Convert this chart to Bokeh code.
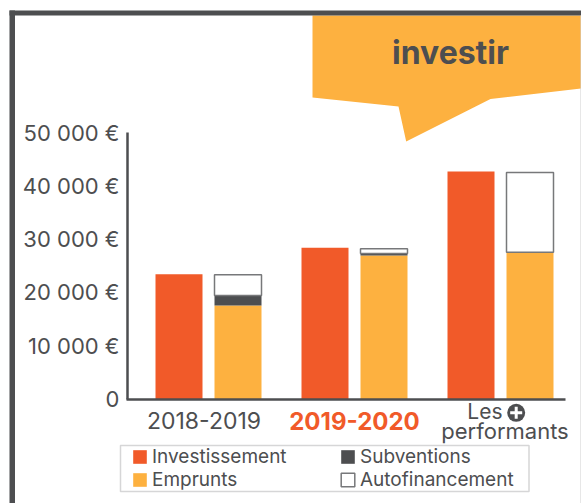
from bokeh.embed import file_html
from bokeh.resources import INLINE
from bokeh.plotting import figure
from bokeh.models import (Range1d, FixedTicker, LinearAxis, BoxAnnotation,
                          Legend, LegendItem, ColumnDataSource)
from bokeh.core.properties import value

categories = ["2018-2019", "2019-2020", "Les performants"]
positions = [0, 1, 2]
investissement = [23400, 28400, 42700]
emprunts = [17540, 26900, 27550]
subventions = [1860, 400, 0]
autofinancement = [3900, 900, 14950]
y_ticks = [0, 10000, 20000, 30000, 40000, 50000]
y_labels = ["0", "10 000 €", "20 000 €", "30 000 €", "40 000 €", "50 000 €"]

RED, YEL, DARK = "#f15a29", "#fdb140", "#4d4e50"
FONT = "Inter"
W, H = 581, 503

def dy(page):
    return (398.5 - page) / 53.3 * 10000
def dx(page):
    return (page - 208) / 146

p = figure(width=W, height=H, output_backend="svg", toolbar_location=None, tools="",
           x_range=Range1d(dx(0), dx(W)), y_range=Range1d(dy(H), dy(0)),
           x_axis_type=None, y_axis_type=None,
           min_border_left=0, min_border_right=0, min_border_top=0, min_border_bottom=0,
           background_fill_color="white", border_fill_color="white", outline_line_color=None)
p.grid.visible = False

yax = LinearAxis(ticker=FixedTicker(ticks=y_ticks), fixed_location=dx(127),
                 major_label_overrides={t: s for t, s in zip(y_ticks, y_labels)},
                 major_tick_line_color=None, minor_tick_line_color=None, major_tick_out=0, major_tick_in=0,
                 major_label_standoff=8, bounds=(0, 50000),
                 axis_line_color=DARK, axis_line_width=2.5,
                 major_label_text_font=FONT, major_label_text_color=DARK,
                 major_label_text_font_size="22px")
p.add_layout(yax, "left")
xax = LinearAxis(ticker=FixedTicker(ticks=[]), fixed_location=0, bounds=(dx(125.5), dx(565)),
                 major_tick_line_color=None, minor_tick_line_color=None,
                 axis_line_color=DARK, axis_line_width=2.5)
p.add_layout(xax, "below")

def box(x0, x1, y0, y1, **kw):
    p.add_layout(BoxAnnotation(left=dx(x0), right=dx(x1), top=dy(y0), bottom=dy(y1), **kw))

box(9, 14.5, 10, H, fill_color=DARK, fill_alpha=1, line_color=None, level="overlay")
box(9, W, 10, 15, fill_color=DARK, fill_alpha=1, line_color=None, level="overlay")
box(W - 1, W, 15, H, fill_color="#cfcfcf", fill_alpha=1, line_color=None, level="overlay")

callout_x = [312, 581, 581, 490, 405.7, 398, 312]
callout_y = [15, 15, 88, 98.5, 141, 106, 97]
p.patch([dx(v) for v in callout_x], [dy(v) for v in callout_y], fill_color=YEL, line_color=None)
p.text([dx(450)], [dy(52)], text=["investir"], text_font=value(FONT), text_font_style="bold",
       text_font_size="32px", text_color=DARK, text_align="center", text_baseline="middle")

BW = 47 / 146
OFF = 29.5 / 146
src = ColumnDataSource(dict(x=positions, x1=[v - OFF for v in positions], x2=[v + OFF for v in positions],
                            investissement=investissement, emprunts=emprunts,
                            subventions=subventions, autofinancement=autofinancement))
r_inv = p.vbar(x="x1", top="investissement", bottom=0, width=BW, source=src, fill_color=RED, line_color=None)
stack = p.vbar_stack(["emprunts", "subventions", "autofinancement"], x="x2", width=BW, source=src,
                     fill_color=[YEL, DARK, "white"], line_color=[None, None, "#77787a"], line_width=1.5)

p.text([dx(203.5)], [dy(420)], text=[categories[0]], text_font=value(FONT), text_font_size="23px",
       text_color=DARK, text_align="center", text_baseline="middle")
p.text([dx(354)], [dy(420)], text=[categories[1]], text_font=value(FONT), text_font_style="bold",
       text_font_size="24px", text_color=RED, text_align="center", text_baseline="middle")
les, perf = categories[2].split(" ")
p.text([dx(502)], [dy(411)], text=[les], text_font=value(FONT), text_font_size="21px",
       text_color=DARK, text_align="right", text_baseline="middle")
p.text([dx(504.5)], [dy(430)], text=[perf], text_font=value(FONT), text_font_size="22px",
       text_color=DARK, text_align="center", text_baseline="middle")
p.scatter([dx(515.7)], [dy(412.3)], marker="circle", size=18, fill_color=DARK, line_color=None)
p.scatter([dx(515.7)], [dy(412.3)], marker="cross", size=12, line_color="white", line_width=3)

box(120, 528.5, 445, 491, fill_color="white", fill_alpha=1, line_color="#77787a", line_width=1.5, level="annotation")
legend = Legend(items=[LegendItem(label="Investissement", renderers=[r_inv]),
                       LegendItem(label="Emprunts", renderers=[stack[0]]),
                       LegendItem(label="Subventions", renderers=[stack[1]]),
                       LegendItem(label="Autofinancement", renderers=[stack[2]])],
                nrows=2, location=(131, 12), padding=0, margin=0, spacing=-5,
                glyph_width=17, glyph_height=17, label_height=15, label_standoff=4, label_width=187,
                border_line_color=None, background_fill_alpha=0,
                label_text_font=FONT, label_text_font_size="19px", label_text_color=DARK)
p.add_layout(legend, "center")

open("out.html", "w").write(file_html(p, INLINE))
